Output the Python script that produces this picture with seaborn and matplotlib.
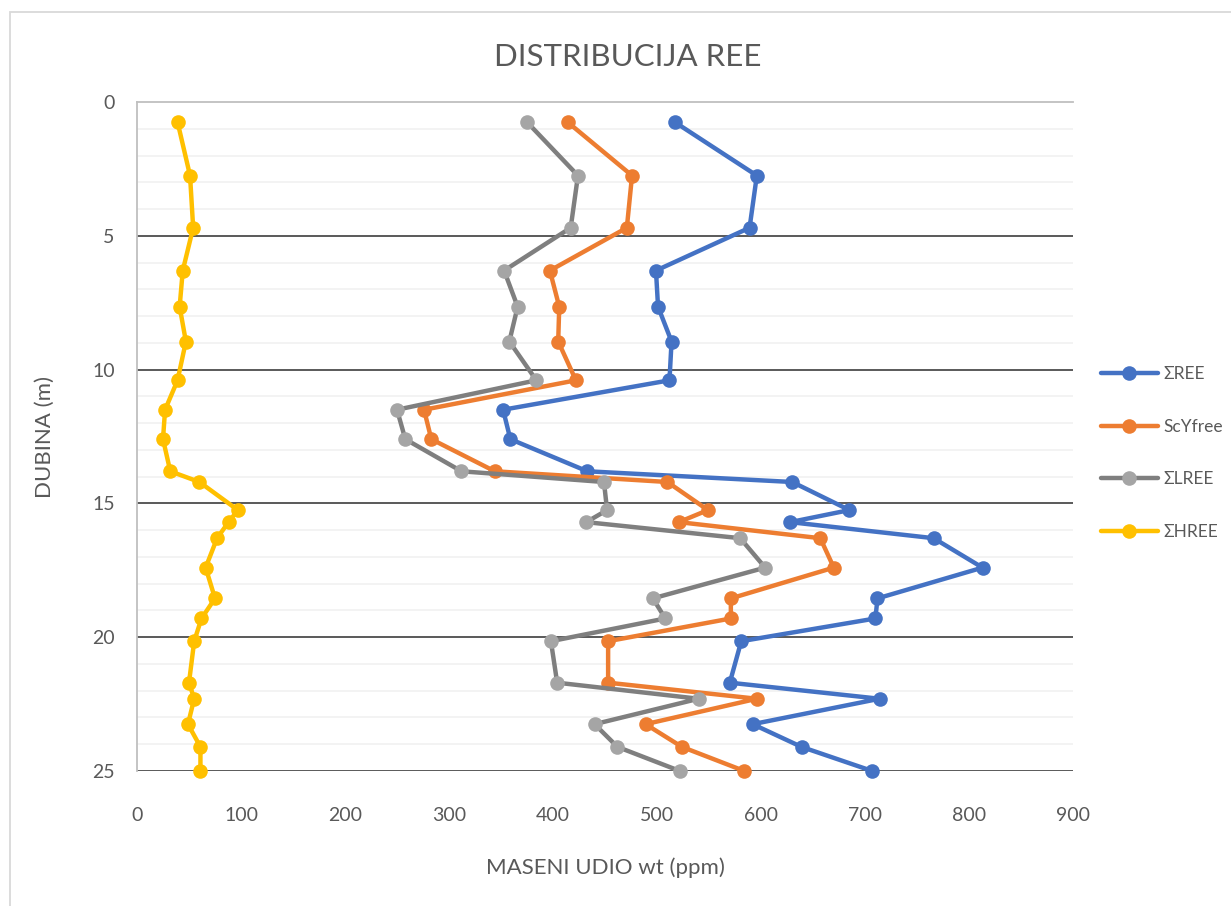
import numpy as np
import pandas as pd
import matplotlib
matplotlib.use("Agg")
import matplotlib.pyplot as plt
import seaborn as sns
from matplotlib.patches import Rectangle

# depth of each sample (m)
dubina = [0.75, 2.75, 4.7, 6.3, 7.65, 8.95, 10.4, 11.5, 12.6, 13.8, 14.2,
          15.25, 15.7, 16.3, 17.4, 18.55, 19.3, 20.15, 21.7, 22.3, 23.25, 24.1, 25.0]

ree = [517, 596, 589, 499, 501, 514, 512, 352, 359, 433, 630,
       685, 628, 766, 813, 712, 710, 581, 570, 714, 592, 639, 707]
scy_free = [414, 476, 471, 397, 406, 405, 422, 276, 283, 344, 510,
            549, 521, 657, 670, 571, 571, 453, 453, 596, 489, 524, 584]
lree = [375, 424, 417, 353, 366, 358, 384, 250, 258, 312, 449,
        452, 432, 580, 604, 496, 508, 398, 404, 540, 440, 462, 522]
hree = [39, 51, 54, 44, 41, 47, 39, 27, 25, 32, 60,
        97, 88, 77, 66, 75, 62, 55, 50, 55, 49, 61, 61]

series = ["ΣREE", "ScYfree", "ΣLREE", "ΣHREE"]
values = [ree, scy_free, lree, hree]
line_colors = ["#4472c4", "#ed7d31", "#7f7f7f", "#ffc000"]
marker_colors = ["#4472c4", "#ed7d31", "#a5a5a5", "#ffc000"]

sns.set_style("white")
plt.rcParams["font.family"] = ["Lato", "DejaVu Sans"]

fig = plt.figure(figsize=(12.31, 9.06), dpi=100)
ax = fig.add_axes([137 / 1231, 1 - 771 / 906, 936 / 1231, 669 / 906])

for name, vals, lc, mc in zip(series, values, line_colors, marker_colors):
    df = pd.DataFrame({"x": vals, "y": dubina})
    sns.lineplot(data=df, x="x", y="y", sort=False, estimator=None, ax=ax,
                 color=lc, linewidth=3.2, marker="o", markersize=10.5,
                 markerfacecolor=mc, markeredgecolor=mc, markeredgewidth=0,
                 label=name, zorder=3, clip_on=False)

ax.set_xlim(0, 900)
ax.set_ylim(25, 0)
ax.set_xticks(range(0, 1000, 100))
ax.set_yticks(range(0, 30, 5))
ax.set_yticks(range(0, 26), minor=True)
ax.grid(False)
ax.grid(axis="y", which="minor", color="#f2f2f2", linewidth=1.3, zorder=0)
for v in range(5, 30, 5):
    ax.axhline(v, color="#595959", linewidth=1.4, zorder=1)

for s in ["right", "bottom"]:
    ax.spines[s].set_visible(False)
ax.spines["left"].set_color("#bfbfbf")
ax.spines["top"].set_color("#bfbfbf")
ax.spines["left"].set_linewidth(1.3)
ax.spines["top"].set_linewidth(1.3)

ax.tick_params(axis="both", which="both", length=0, labelsize=14,
               labelcolor="#595959")
ax.tick_params(axis="x", pad=26)
ax.tick_params(axis="y", pad=16)

ax.set_xlabel("MASENI UDIO wt (ppm)", fontsize=16, color="#595959", va="center")
ax.set_ylabel("DUBINA (m)", fontsize=16, color="#595959", va="center")
ax.xaxis.set_label_coords(0.5, (771 - 868) / 669)
ax.yaxis.set_label_coords((45 - 137) / 936, 0.5)

fig.text(628 / 1231, 1 - 57 / 906, "DISTRIBUCIJA REE", fontsize=22.5,
         color="#595959", ha="center", va="center")

ax.legend(loc="center left", bbox_to_anchor=(1085 / 1231, 1 - 453 / 906),
          bbox_transform=fig.transFigure, frameon=False, fontsize=12.5,
          labelcolor="#595959", labelspacing=2.1, handlelength=3.3,
          handletextpad=0.3)

fig.patches.append(Rectangle((10 / 1231, -0.1), 1.2, 1 - 12 / 906 + 0.1,
                             transform=fig.transFigure, fill=False,
                             edgecolor="#d9d9d9", linewidth=1.3))

fig.savefig("out.png", dpi=100)
